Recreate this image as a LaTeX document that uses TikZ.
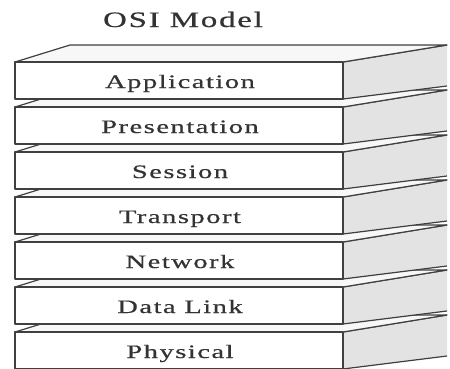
\documentclass[tikz,border=0pt]{standalone}
\usepackage{fontspec}
\newfontfamily\layerfont[FakeStretch=1.5,LetterSpace=8,FakeBold=0.6]{Liberation Serif}

\tikzset{
  edge/.style={draw=black!75, line width=1.2pt, line join=round},
  frontface/.style={edge, fill=white},
  topface/.style={edge, fill=black!3},
  sideface/.style={fill=black!11},
  layer/.style={anchor=base, text=black!80, inner sep=0pt,
    font=\layerfont\fontsize{19}{19}\selectfont},
  heading/.style={anchor=base, text=black!80, inner sep=0pt,
    font=\layerfont\fontsize{22}{22}\selectfont},
}

% one slab of the stack: #1 = top of the front face, #2 = node name, #3 = layer text
\newcommand{\slab}[3]{
  \fill[sideface] (343,#1) -- (447,#1-17) -- (447,#1+24) -- (343,#1+37) -- cycle;
  \draw[edge] (343,#1) -- (447,#1-17);
  \draw[edge] (343,#1+37) -- (447,#1+24);
  \draw[topface] (15,#1) -- (70,#1-17) -- (447,#1-17) -- (343,#1) -- cycle;
  \draw[frontface] (15,#1) rectangle (343,#1+37);
  \node[layer] (#2) at (180,#1+26) {#3};
}

\begin{document}
\begin{tikzpicture}[x=1pt, y=-1pt]
  \useasboundingbox (0,0) rectangle (450,368);

  \node[heading] (title) at (183,27) {OSI Model};

  % bottom slab first, each one above covers the back of the one below
  \slab{332}{phys}{Physical}
  \slab{287}{link}{Data Link}
  \slab{242}{net}{Network}
  \slab{197}{trans}{Transport}
  \slab{152}{sess}{Session}
  \slab{107}{pres}{Presentation}
  \slab{62}{app}{Application}
\end{tikzpicture}
\end{document}
